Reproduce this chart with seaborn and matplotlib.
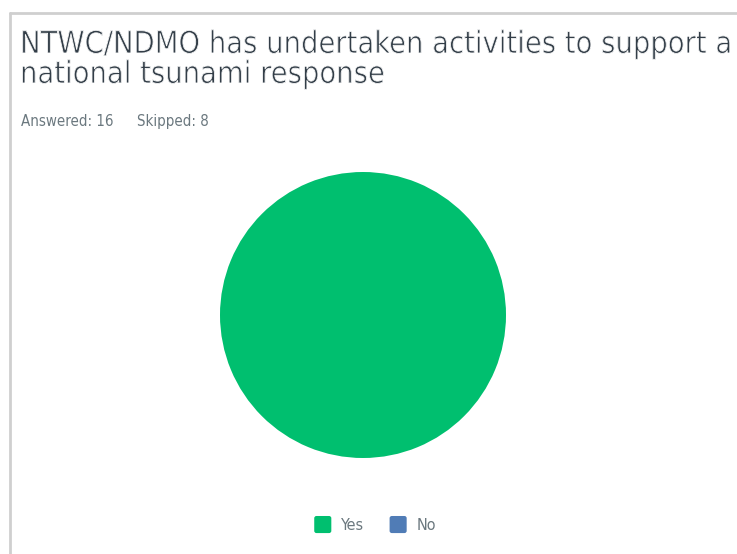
import matplotlib
matplotlib.use("Agg")
import matplotlib.pyplot as plt
from matplotlib.patches import Patch, FancyBboxPatch
from matplotlib.lines import Line2D
from matplotlib.legend_handler import HandlerPatch
import matplotlib.patheffects as pe
import seaborn as sns

# Survey responses
categories = ["Yes", "No"]
counts = [16, 0]
answered = 16
skipped = 8
title_lines = ["NTWC/NDMO has undertaken activities to support a",
               "national tsunami response"]

colors = ["#00BF6F", "#507CB6"]

sns.set_theme(style="white")
plt.rcParams["font.family"] = ["DejaVu Sans"]
plt.rcParams["font.stretch"] = "condensed"

W, H = 737, 554
fig = plt.figure(figsize=(W / 100, H / 100), dpi=100)
fig.patch.set_facecolor("white")

# panel frame (top and left edges)
fig.add_artist(Line2D([9.5 / W, 1.0], [1 - 12.5 / H, 1 - 12.5 / H],
                      transform=fig.transFigure, color="#cfcfcf", lw=2))
fig.add_artist(Line2D([9.5 / W, 9.5 / W], [0.0, 1 - 12.5 / H],
                      transform=fig.transFigure, color="#cfcfcf", lw=2))

# slightly thinned glyphs for a lighter title face
thin = [pe.Normal(), pe.Stroke(linewidth=0.6, foreground="white")]
title_kw = dict(fontsize=22, fontstretch="condensed", color="#333e48",
                va="baseline", ha="left", path_effects=thin)
fig.text(20 / W, 1 - 53 / H, title_lines[0], **title_kw)
fig.text(20 / W, 1 - 83 / H, title_lines[1], **title_kw)
sub_kw = dict(fontsize=10.8, fontstretch="condensed", color="#6b787f",
              va="baseline", ha="left")
fig.text(21 / W, 1 - 126 / H, f"Answered: {answered}", **sub_kw)
fig.text(137 / W, 1 - 126 / H, f"Skipped: {skipped}", **sub_kw)

# pie axes: centre (363, 315), radius 143 px
r = 143
cx, cy = 363, 315
ax = fig.add_axes([(cx - r) / W, 1 - (cy + r) / H, 2 * r / W, 2 * r / H])
ax.pie(counts, colors=colors, startangle=90, counterclock=False,
       wedgeprops=dict(linewidth=0))
ax.set_aspect("equal")
ax.set_xlim(-1, 1)
ax.set_ylim(-1, 1)
ax.axis("off")

SWATCH = 12.3  # legend swatch side, points


class RoundedSquare(HandlerPatch):
    def create_artists(self, legend, orig_handle, xdescent, ydescent,
                       width, height, fontsize, trans):
        y0 = -ydescent + (height - SWATCH) / 2
        p = FancyBboxPatch((-xdescent, y0), SWATCH, SWATCH,
                           boxstyle="round,pad=0,rounding_size=1.6",
                           facecolor=orig_handle.get_facecolor(), edgecolor="none",
                           transform=trans)
        return [p]


handles = [Patch(facecolor=c, edgecolor="none", label=l) for c, l in zip(colors, categories)]
leg = fig.legend(handles=handles, loc="center", bbox_to_anchor=(375 / W, 1 - 525 / H),
                 ncol=2, frameon=False, fontsize=11.5, handlelength=1.07, handleheight=1.07,
                 handletextpad=0.6, columnspacing=1.6,
                 handler_map={Patch: RoundedSquare()})
for t in leg.get_texts():
    t.set_color("#6b787f")
    t.set_fontstretch("condensed")

fig.savefig("out.png", dpi=100, facecolor="white")
